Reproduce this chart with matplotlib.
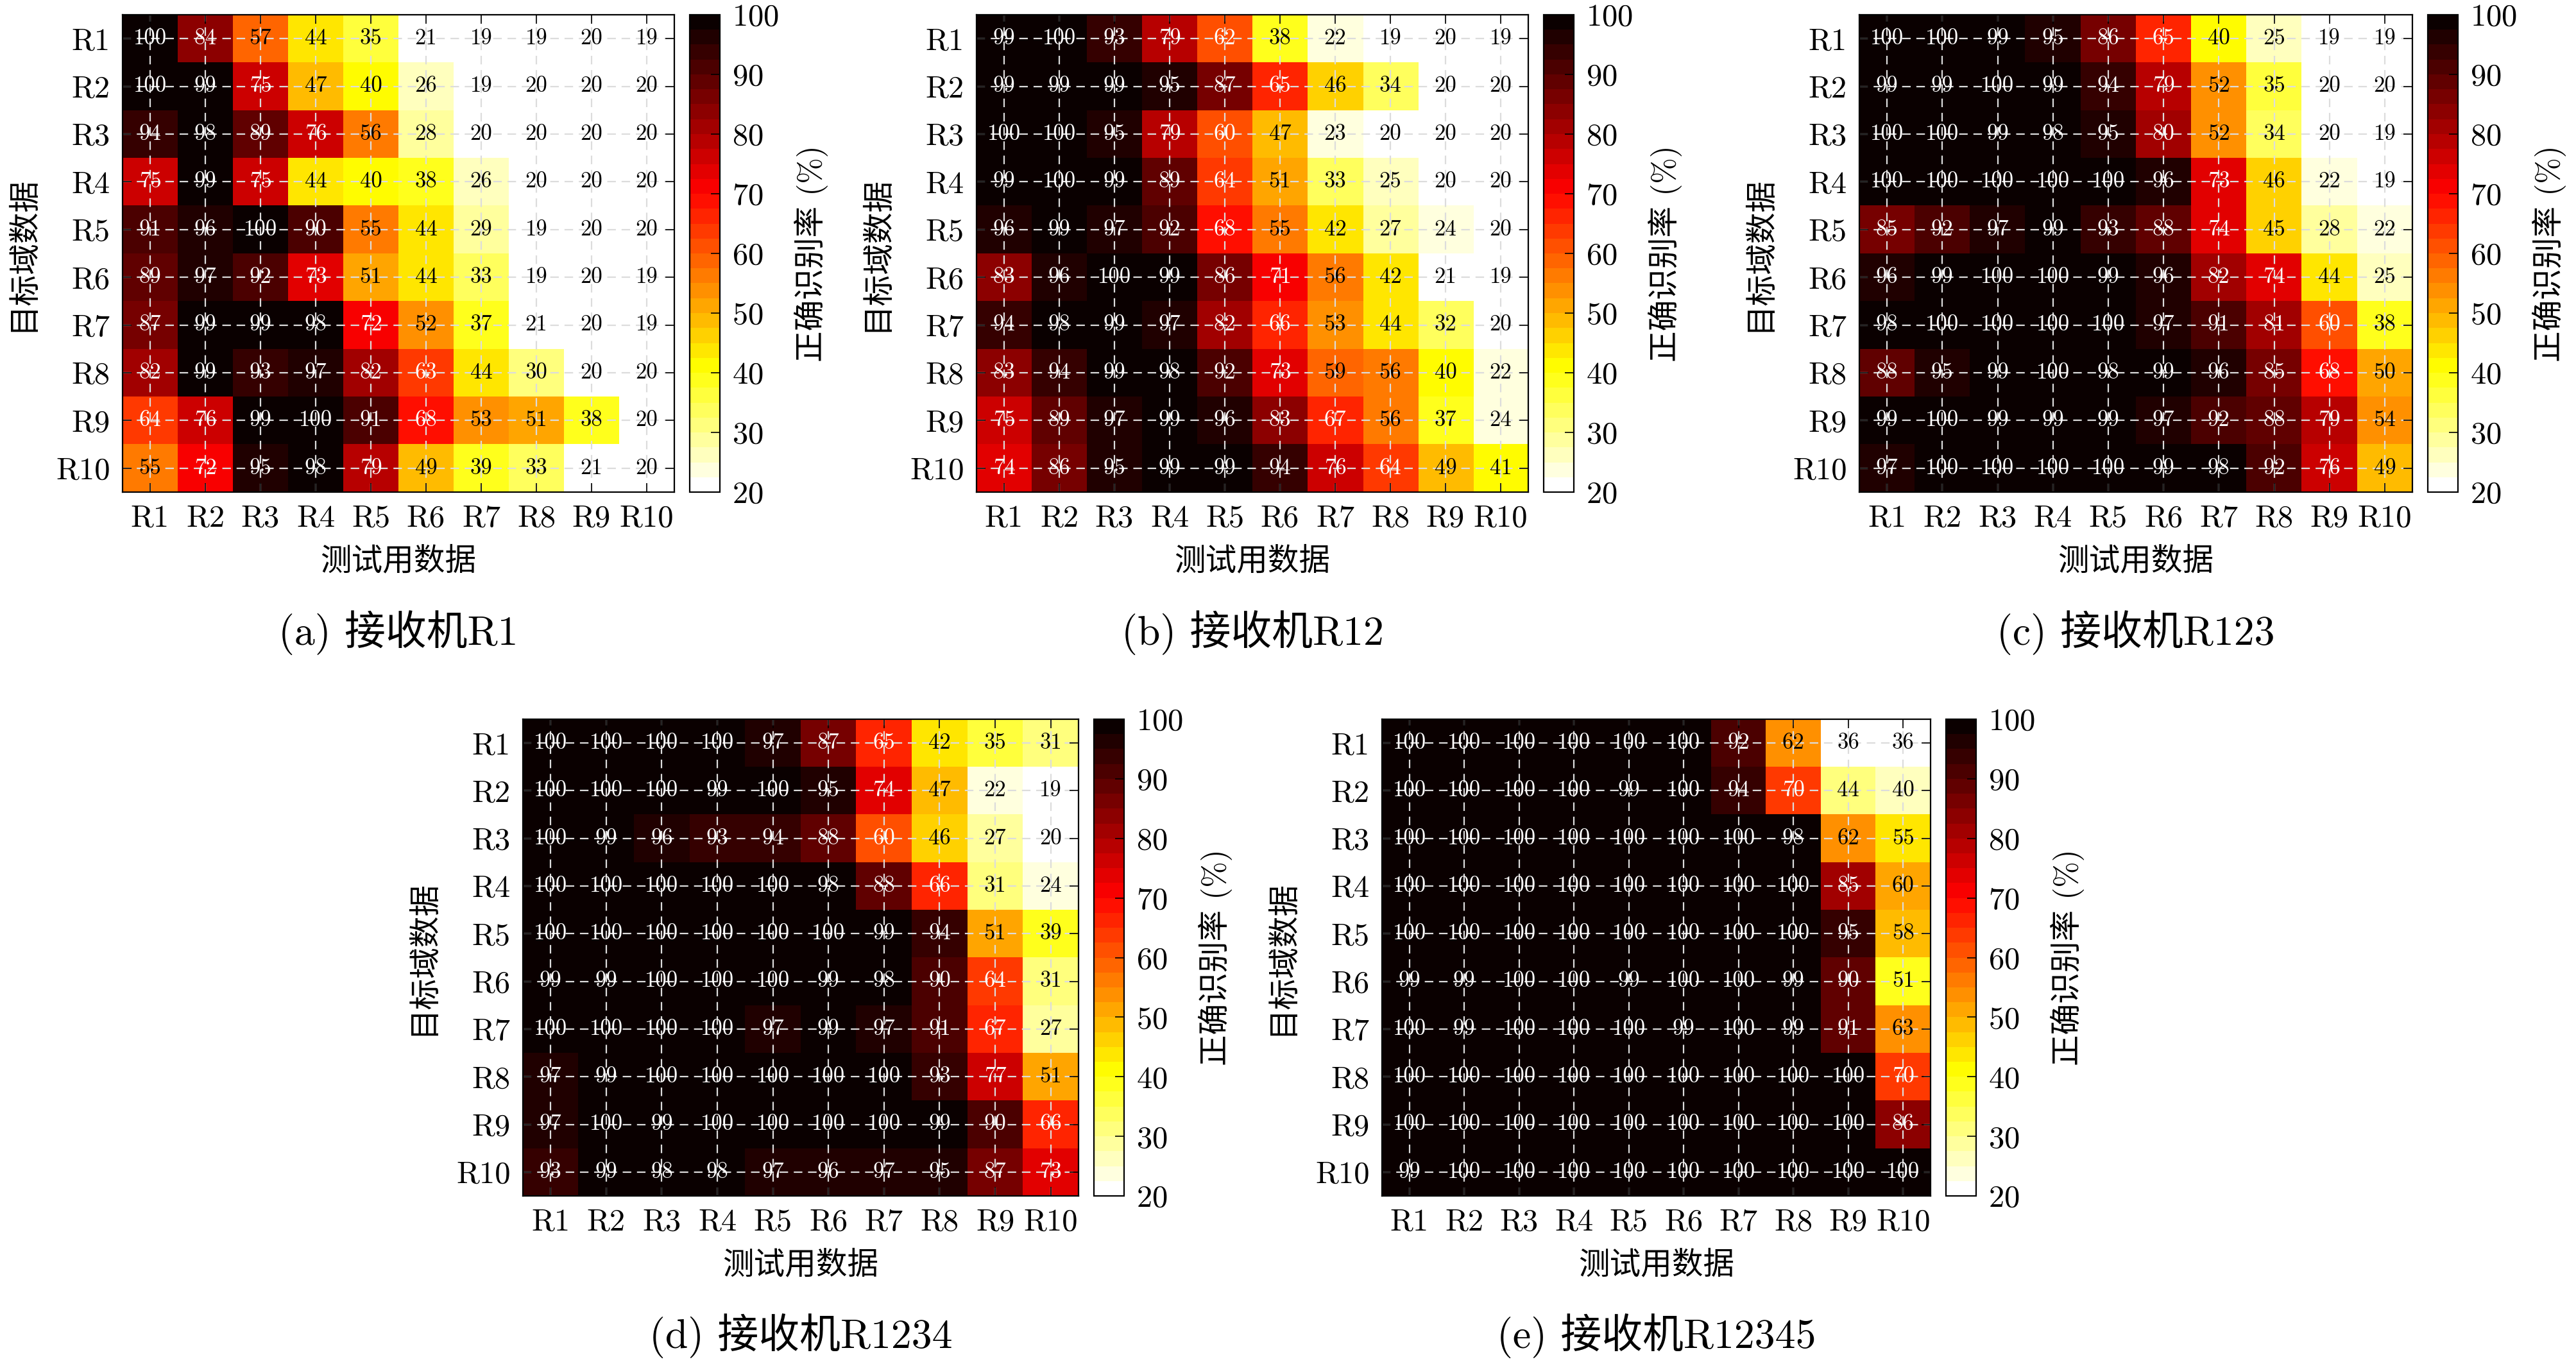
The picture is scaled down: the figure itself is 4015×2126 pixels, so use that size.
import numpy as np
import matplotlib
matplotlib.use("Agg")
import matplotlib.pyplot as plt
from matplotlib import colors, cm

plt.rcParams['font.family'] = ['cmr10', 'Noto Sans CJK SC']
plt.rcParams['axes.formatter.use_mathtext'] = True

labels = ['R1', 'R2', 'R3', 'R4', 'R5', 'R6', 'R7', 'R8', 'R9', 'R10']
captions = ['(a) 接收机R1', '(b) 接收机R12', '(c) 接收机R123',
            '(d) 接收机R1234', '(e) 接收机R12345']

acc_r1 = [
    [100, 84, 57, 44, 35, 21, 19, 19, 20, 19],
    [100, 99, 75, 47, 40, 26, 19, 20, 20, 20],
    [94, 98, 89, 76, 56, 28, 20, 20, 20, 20],
    [75, 99, 75, 44, 40, 38, 26, 20, 20, 20],
    [91, 96, 100, 90, 55, 44, 29, 19, 20, 20],
    [89, 97, 92, 73, 51, 44, 33, 19, 20, 19],
    [87, 99, 99, 98, 72, 52, 37, 21, 20, 19],
    [82, 99, 93, 97, 82, 63, 44, 30, 20, 20],
    [64, 76, 99, 100, 91, 68, 53, 51, 38, 20],
    [55, 72, 95, 98, 79, 49, 39, 33, 21, 20],
]
acc_r12 = [
    [99, 100, 93, 79, 62, 38, 22, 19, 20, 19],
    [99, 99, 99, 95, 87, 65, 46, 34, 20, 20],
    [100, 100, 95, 79, 60, 47, 23, 20, 20, 20],
    [99, 100, 99, 89, 64, 51, 33, 25, 20, 20],
    [96, 99, 97, 92, 68, 55, 42, 27, 24, 20],
    [83, 96, 100, 99, 86, 71, 56, 42, 21, 19],
    [94, 98, 99, 97, 82, 66, 53, 44, 32, 20],
    [83, 94, 99, 98, 92, 73, 59, 56, 40, 22],
    [75, 89, 97, 99, 96, 83, 67, 56, 37, 24],
    [74, 86, 95, 99, 99, 94, 76, 64, 49, 41],
]
acc_r123 = [
    [100, 100, 99, 95, 86, 65, 40, 25, 19, 19],
    [99, 99, 100, 99, 94, 79, 52, 35, 20, 20],
    [100, 100, 99, 98, 95, 80, 52, 34, 20, 19],
    [100, 100, 100, 100, 100, 96, 73, 46, 22, 19],
    [85, 92, 97, 99, 93, 88, 74, 45, 28, 22],
    [96, 99, 100, 100, 99, 96, 82, 74, 44, 25],
    [98, 100, 100, 100, 100, 97, 91, 81, 60, 38],
    [88, 95, 99, 100, 98, 99, 96, 85, 68, 50],
    [99, 100, 99, 99, 99, 97, 92, 88, 79, 54],
    [97, 100, 100, 100, 100, 99, 98, 92, 76, 49],
]
acc_r1234 = [
    [100, 100, 100, 100, 97, 87, 65, 42, 35, 31],
    [100, 100, 100, 99, 100, 95, 74, 47, 22, 19],
    [100, 99, 96, 93, 94, 88, 60, 46, 27, 20],
    [100, 100, 100, 100, 100, 98, 88, 66, 31, 24],
    [100, 100, 100, 100, 100, 100, 99, 94, 51, 39],
    [99, 99, 100, 100, 100, 99, 98, 90, 64, 31],
    [100, 100, 100, 100, 97, 99, 97, 91, 67, 27],
    [97, 99, 100, 100, 100, 100, 100, 93, 77, 51],
    [97, 100, 99, 100, 100, 100, 100, 99, 90, 66],
    [93, 99, 98, 98, 97, 96, 97, 95, 87, 73],
]
acc_r12345 = [
    [100, 100, 100, 100, 100, 100, 92, 62, 36, 36],
    [100, 100, 100, 100, 99, 100, 94, 70, 44, 40],
    [100, 100, 100, 100, 100, 100, 100, 98, 62, 55],
    [100, 100, 100, 100, 100, 100, 100, 100, 85, 60],
    [100, 100, 100, 100, 100, 100, 100, 100, 95, 58],
    [99, 99, 100, 100, 99, 100, 100, 99, 90, 51],
    [100, 99, 100, 100, 100, 99, 100, 99, 91, 63],
    [100, 100, 100, 100, 100, 100, 100, 100, 100, 70],
    [100, 100, 100, 100, 100, 100, 100, 100, 100, 86],
    [99, 100, 100, 100, 100, 100, 100, 100, 100, 100],
]
cbar_ticks = [20, 30, 40, 50, 60, 70, 80, 90, 100]

W, H = 4016, 2126
fig = plt.figure(figsize=(W / 200, H / 200), dpi=200)

# axes boxes in pixels: left, top, width, height
boxes = [(191, 23, 860, 744), (1522, 23, 860, 744), (2898, 23, 862, 744),
         (815, 1121, 866, 743), (2154, 1121, 855, 743)]
cap_y = [986, 986, 986, 2082, 2082]
cmap = plt.get_cmap('hot_r', 32)

for data, box, cap, cy in zip([acc_r1, acc_r12, acc_r123, acc_r1234, acc_r12345],
                              boxes, captions, cap_y):
    data = np.array(data)
    l, t, w, h = box
    ax = fig.add_axes([l / W, 1 - (t + h) / H, w / W, h / H])
    ax.imshow(data, cmap=cmap, vmin=data.min(), vmax=data.max(), aspect='auto',
              interpolation='nearest')
    # white numbers on the darker half of each panel
    thr = (data.min() + data.max()) / 2
    for i in range(10):
        for j in range(10):
            v = data[i, j]
            ax.text(j, i, str(v), ha='center', va='center', fontsize=12.5,
                    color='white' if v > thr else 'black', zorder=3)
    ax.set_xticks(range(10))
    ax.set_yticks(range(10))
    ax.set_xticklabels(labels)
    ax.set_yticklabels(labels)
    ax.tick_params(direction='in', top=True, right=True, length=5, width=0.6,
                   labelsize=17.5, pad=7)
    ax.grid(color='#dcdcdc', ls=(0, (6, 4)), lw=0.8)
    for s in ax.spines.values():
        s.set_linewidth(0.8)
    ax.set_xlabel('测试用数据', fontsize=17.5)
    ax.set_ylabel('目标域数据', fontsize=17.5)
    ax.xaxis.set_label_coords(0.5, -108 / h)
    ax.xaxis.label.set_va('center')
    ax.yaxis.set_label_coords(-155 / w, 0.5)
    ax.yaxis.label.set_va('center')

    cax = fig.add_axes([(l + w + 24) / W, 1 - (t + h) / H, 47 / W, h / H])
    sm = cm.ScalarMappable(norm=colors.Normalize(20, 100), cmap=cmap)
    cb = fig.colorbar(sm, cax=cax, ticks=cbar_ticks)
    cb.outline.set_linewidth(0.8)
    cax.tick_params(direction='in', length=5, width=0.6, labelsize=17.5, pad=7)
    cb.set_label('正确识别率 (%)', fontsize=17.5)
    cax.yaxis.set_label_coords((213 - 24) / 47, 0.5)
    cax.yaxis.label.set_va('center')

    fig.text((l + w / 2) / W, 1 - cy / H, cap, ha='center', va='center', fontsize=23)

fig.savefig('out.png', dpi=200, facecolor='white')
